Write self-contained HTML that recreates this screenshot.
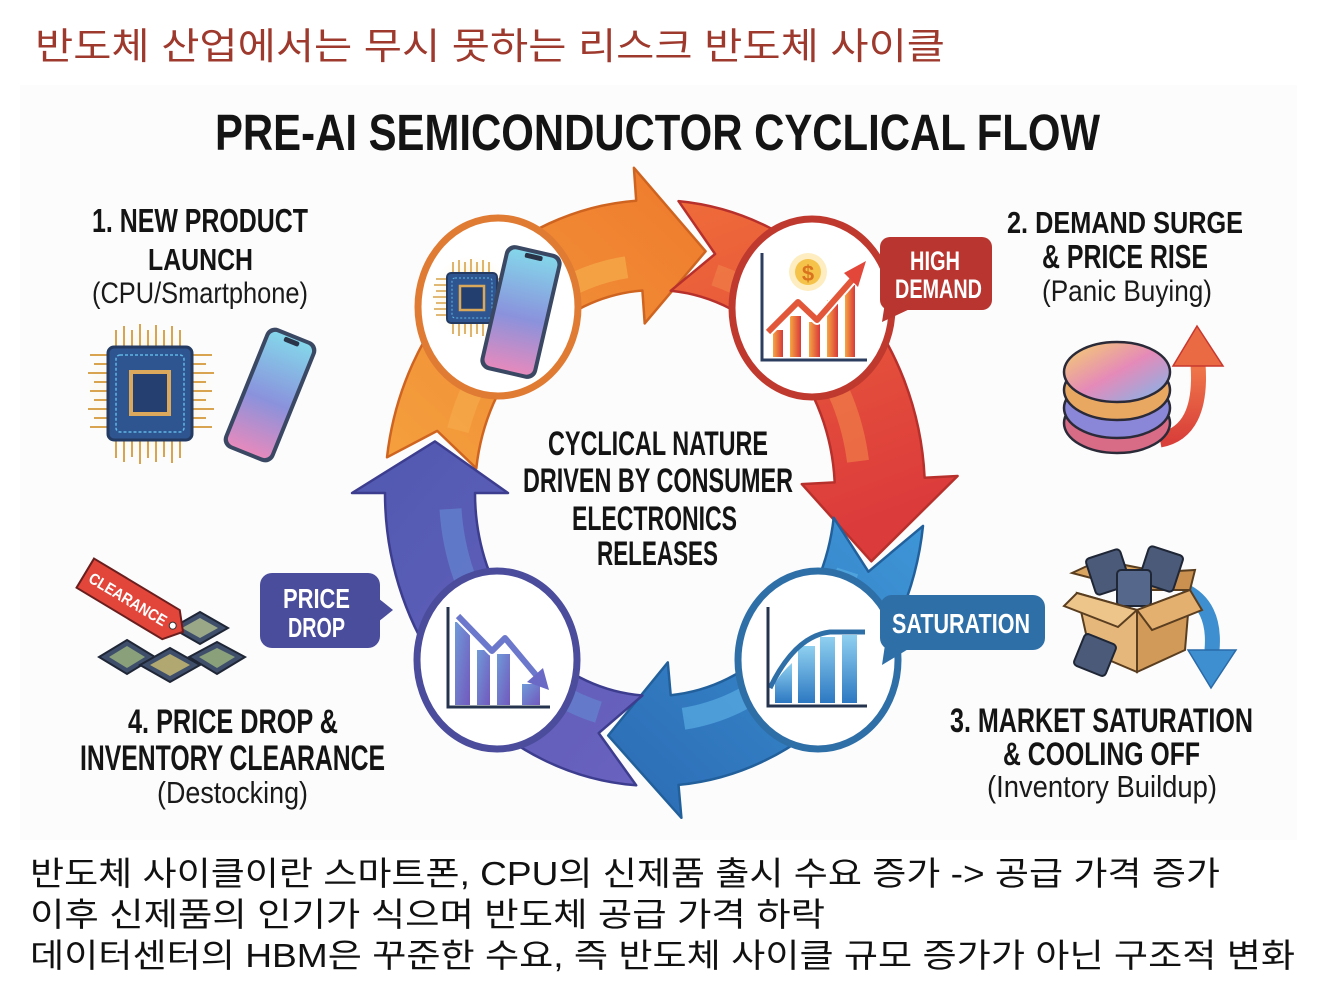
<!DOCTYPE html>
<html><head><meta charset="utf-8">
<style>
html,body{margin:0;padding:0;background:#fff;}
svg{display:block;}
text{font-family:"Liberation Sans","Noto Sans CJK KR",sans-serif;}
.kr{font-family:"Liberation Sans","Noto Sans CJK KR",sans-serif;}
.b{font-weight:bold;fill:#141414;}
.r{font-weight:normal;fill:#1a1a1a;}
.w{font-weight:bold;fill:#fff;}
</style></head>
<body>
<svg width="1327" height="981" viewBox="0 0 1327 981" xmlns="http://www.w3.org/2000/svg">
<defs>
<linearGradient id="gO" x1="0" y1="1" x2="1" y2="0"><stop offset="0" stop-color="#f4a03e"/><stop offset="1" stop-color="#ee7a2d"/></linearGradient>
<linearGradient id="gR" x1="0" y1="0" x2="0.3" y2="1"><stop offset="0" stop-color="#ef6c3a"/><stop offset="1" stop-color="#dc3b3b"/></linearGradient>
<linearGradient id="gB" x1="1" y1="0" x2="0" y2="1"><stop offset="0" stop-color="#3e96d7"/><stop offset="1" stop-color="#2b6bb4"/></linearGradient>
<linearGradient id="gP" x1="1" y1="1" x2="0" y2="0"><stop offset="0" stop-color="#6a62bf"/><stop offset="1" stop-color="#5059b0"/></linearGradient>
<linearGradient id="gPhone" x1="0" y1="0" x2="0" y2="1"><stop offset="0" stop-color="#84d6ea"/><stop offset="0.55" stop-color="#8a92dc"/><stop offset="1" stop-color="#e58abd"/></linearGradient>
<radialGradient id="glow"><stop offset="0" stop-color="#fde3a6" stop-opacity="1"/><stop offset="1" stop-color="#fff3d6" stop-opacity="0"/></radialGradient>
<linearGradient id="gBarR" x1="0" y1="0" x2="1" y2="0"><stop offset="0" stop-color="#f6a642"/><stop offset="1" stop-color="#d8393a"/></linearGradient>
<linearGradient id="gBarB" x1="0" y1="0" x2="0" y2="1"><stop offset="0" stop-color="#8fd0f0"/><stop offset="1" stop-color="#2c78c2"/></linearGradient>
<linearGradient id="gBarP" x1="0" y1="0" x2="1" y2="1"><stop offset="0" stop-color="#6f9ad8"/><stop offset="1" stop-color="#7258bd"/></linearGradient>
<linearGradient id="gWafer" x1="0" y1="0" x2="1" y2="1"><stop offset="0" stop-color="#f6d36a"/><stop offset="0.5" stop-color="#e58ab8"/><stop offset="1" stop-color="#7ab8ee"/></linearGradient>
<linearGradient id="gRedUp" x1="0" y1="1" x2="0" y2="0"><stop offset="0" stop-color="#d9403a"/><stop offset="1" stop-color="#f0784a"/></linearGradient>
</defs>

<rect x="20" y="85" width="1277" height="755" fill="#fcfcfc"/>

<text class="kr" x="35" y="59" font-size="37" fill="#9e392d" textLength="910" lengthAdjust="spacingAndGlyphs">반도체 산업에서는 무시 못하는 리스크 반도체 사이클</text>

<text class="b" x="215" y="150" font-size="51" textLength="885" lengthAdjust="spacingAndGlyphs">PRE-AI SEMICONDUCTOR CYCLICAL FLOW</text>

<!-- ARROWS -->
<path d="M387.0,457.3 A270,293 0 0 1 636.2,200.7 L633.9,167.8 L705.6,251.3 L644.7,323.4 L642.4,290.5 A180,203 0 0 0 476.3,468.3 L437.2,430.9 Z" fill="url(#gO)" stroke="#cf6420" stroke-width="2.5" stroke-linejoin="round"/>
<path d="M457.9,430.2 A205,228 0 0 1 626.5,267.2" fill="none" stroke="#f5a748" stroke-width="22" stroke-opacity="0.8"/>
<path d="M678.5,201.1 A270,293 0 0 1 924.6,477.7 L957.6,476.0 L871.3,561.3 L801.8,484.1 L834.7,482.4 A180,203 0 0 0 670.7,290.8 L715.1,254.0 Z" fill="url(#gR)" stroke="#b8302c" stroke-width="2.5" stroke-linejoin="round"/>
<path d="M714.9,275.0 A205,228 0 0 1 858.0,461.3" fill="none" stroke="#f07e48" stroke-width="22" stroke-opacity="0.7"/>
<path d="M923.0,525.9 A270,293 0 0 1 678.5,784.9 L681.4,817.8 L608.2,735.6 L667.8,662.4 L670.7,695.2 A180,203 0 0 0 833.7,517.7 L868.4,571.7 Z" fill="url(#gB)" stroke="#22609c" stroke-width="2.5" stroke-linejoin="round"/>
<path d="M847.6,571.0 A205,228 0 0 1 683.5,718.8" fill="none" stroke="#58ade2" stroke-width="22" stroke-opacity="0.7"/>
<path d="M636.2,785.3 A270,293 0 0 1 385,493 L352,493 L434.9,441.4 L508,493 L475,493 A180,203 0 0 0 642.4,695.5 L598.7,733.1 Z" fill="url(#gP)" stroke="#3d3d8f" stroke-width="2.5" stroke-linejoin="round"/>
<path d="M598.5,712.2 A205,228 0 0 1 450.5,508.9" fill="none" stroke="#6484d0" stroke-width="22" stroke-opacity="0.7"/>

<!-- CIRCLES -->
<ellipse cx="498" cy="307" rx="80" ry="89" fill="#fff" stroke="#e07b33" stroke-width="7"/>
<ellipse cx="812" cy="308" rx="80" ry="89" fill="#fff" stroke="#c0392f" stroke-width="7"/>
<ellipse cx="818" cy="660" rx="80" ry="89" fill="#fff" stroke="#2f6fa7" stroke-width="7"/>
<ellipse cx="497" cy="660" rx="80" ry="89" fill="#fff" stroke="#4b4c9c" stroke-width="7"/>

<!-- TL icon -->
<circle cx="472" cy="298" r="42" fill="url(#glow)"/>
<path d="M453,273V262M459,273V260M465,273V262M471,273V259M477,273V262M483,273V260M489,273V262M453,323V334M459,323V336M465,323V334M471,323V337M477,323V334M483,323V336M489,323V334M447,279H436M447,285H434M447,291H436M447,297H433M447,303H436M447,309H434M447,315H436M497,279H506M497,291H506M497,303H506M497,315H506" stroke="#d7a24a" stroke-width="1.6"/>
<rect x="447" y="273" width="50" height="50" rx="4" fill="#2f5590" stroke="#243a60" stroke-width="2"/>
<rect x="452" y="278" width="40" height="40" rx="3" fill="none" stroke="#5fb6e6" stroke-width="1" stroke-dasharray="2 2"/>
<rect x="460" y="286" width="24" height="24" fill="#233f70" stroke="#d9a85a" stroke-width="2.5"/>
<g transform="rotate(13 521 312)">
<rect x="492" y="248" width="58" height="128" rx="10" fill="#3a4864"/>
<rect x="496" y="252" width="50" height="120" rx="7" fill="url(#gPhone)"/>
<rect x="512" y="253" width="18" height="5" rx="2" fill="#2a3448"/>
</g>

<!-- TR icon -->
<rect x="773" y="330" width="10" height="27" fill="url(#gBarR)"/>
<rect x="790" y="316" width="11" height="41" fill="url(#gBarR)"/>
<rect x="809" y="322" width="11" height="35" fill="url(#gBarR)"/>
<rect x="827" y="300" width="11" height="57" fill="url(#gBarR)"/>
<rect x="845" y="285" width="10" height="72" fill="url(#gBarR)"/>
<path d="M762,253V360H867" fill="none" stroke="#2c3e60" stroke-width="3"/>
<polyline points="768,332 798,302 817,320 853,279" fill="none" stroke="#fff" stroke-width="10" stroke-linejoin="round"/>
<polyline points="768,332 798,302 817,320 853,279" fill="none" stroke="#e2573a" stroke-width="6" stroke-linejoin="round"/>
<polygon points="866,261 844,273 858,287" fill="#e2473a"/>
<circle cx="808" cy="272" r="19" fill="#fde8b0" opacity="0.8"/>
<circle cx="808" cy="272" r="13" fill="#f6c34a"/>
<text x="808" y="281" font-size="22" font-weight="bold" fill="#d9731e" text-anchor="middle">$</text>

<!-- BR icon -->
<path d="M775,703V683Q782,672 792,663V703Z" fill="url(#gBarB)"/>
<rect x="798" y="646" width="17" height="57" fill="url(#gBarB)"/>
<rect x="820" y="637" width="15" height="66" fill="url(#gBarB)"/>
<rect x="842" y="635" width="15" height="68" fill="url(#gBarB)"/>
<path d="M770,688Q795,636 830,632H865" fill="none" stroke="#2f6fa7" stroke-width="5"/>
<path d="M768,607V706H867" fill="none" stroke="#25334f" stroke-width="3"/>

<!-- BL icon -->
<rect x="455" y="622" width="15" height="83" fill="url(#gBarP)"/>
<rect x="477" y="650" width="13" height="55" fill="url(#gBarP)"/>
<rect x="497" y="654" width="13" height="51" fill="url(#gBarP)"/>
<rect x="522" y="684" width="18" height="21" fill="url(#gBarP)"/>
<polyline points="458,616 492,651 505,638 536,675" fill="none" stroke="#fff" stroke-width="10" stroke-linejoin="round"/>
<polyline points="458,616 492,651 505,638 536,675" fill="none" stroke="#6b78cc" stroke-width="6" stroke-linejoin="round"/>
<polygon points="549,690 527,682 543,668" fill="#6a6ac6"/>
<path d="M448,607V707H550" fill="none" stroke="#25334f" stroke-width="3"/>

<!-- Bubbles -->
<rect x="880" y="237" width="112" height="73" rx="10" fill="#b83530"/>
<polygon points="886,296 882,322 912,308" fill="#b83530"/>
<text class="w" x="910" y="270" font-size="27" textLength="50" lengthAdjust="spacingAndGlyphs">HIGH</text>
<text class="w" x="895" y="298" font-size="27" textLength="87" lengthAdjust="spacingAndGlyphs">DEMAND</text>

<rect x="880" y="595" width="165" height="55" rx="12" fill="#2f6fa7"/>
<polygon points="886,638 882,665 910,648" fill="#2f6fa7"/>
<text class="w" x="892" y="633" font-size="28" textLength="138" lengthAdjust="spacingAndGlyphs">SATURATION</text>

<rect x="260" y="573" width="120" height="75" rx="12" fill="#4a4c9c"/>
<polygon points="378,598 393,610 378,622" fill="#4a4c9c"/>
<text class="w" x="283" y="608" font-size="28" textLength="67" lengthAdjust="spacingAndGlyphs">PRICE</text>
<text class="w" x="288" y="637" font-size="28" textLength="57" lengthAdjust="spacingAndGlyphs">DROP</text>

<!-- center text -->
<text class="b" x="548" y="455" font-size="34" textLength="220" lengthAdjust="spacingAndGlyphs">CYCLICAL NATURE</text>
<text class="b" x="523" y="492" font-size="34" textLength="270" lengthAdjust="spacingAndGlyphs">DRIVEN BY CONSUMER</text>
<text class="b" x="572" y="530" font-size="34" textLength="165" lengthAdjust="spacingAndGlyphs">ELECTRONICS</text>
<text class="b" x="597" y="565" font-size="34" textLength="121" lengthAdjust="spacingAndGlyphs">RELEASES</text>

<!-- Label 1 -->
<text class="b" x="92" y="232" font-size="33" textLength="216" lengthAdjust="spacingAndGlyphs">1. NEW PRODUCT</text>
<text class="b" x="148" y="270" font-size="31" textLength="105" lengthAdjust="spacingAndGlyphs">LAUNCH</text>
<text class="r" x="92" y="303" font-size="30" textLength="216" lengthAdjust="spacingAndGlyphs">(CPU/Smartphone)</text>

<circle cx="150" cy="393" r="65" fill="url(#glow)"/>
<path d="M116,347V330M124,347V326M132,347V330M140,347V324M148,347V330M156,347V325M164,347V330M172,347V326M180,347V330M116,440V458M124,440V462M132,440V457M140,440V464M148,440V458M156,440V462M164,440V457M172,440V463M180,440V458M108,355H90M108,364H94M108,373H88M108,382H94M108,391H90M108,400H94M108,409H88M108,418H94M108,427H90M192,355H212M192,364H206M192,373H214M192,382H206M192,391H212M192,400H206M192,409H214M192,418H206M192,427H212" stroke="#d9a450" stroke-width="2"/>
<rect x="108" y="347" width="84" height="93" rx="6" fill="#2f5590" stroke="#233a62" stroke-width="3"/>
<rect x="116" y="355" width="68" height="77" rx="4" fill="none" stroke="#5fb6e6" stroke-width="1.5" stroke-dasharray="3 2"/>
<rect x="131" y="372" width="38" height="42" fill="#243f70" stroke="#dba85c" stroke-width="4"/>
<g transform="rotate(22 270 395)">
<rect x="243" y="330" width="54" height="130" rx="10" fill="#3a4864"/>
<rect x="247" y="334" width="46" height="122" rx="7" fill="url(#gPhone)"/>
<rect x="262" y="335" width="16" height="5" rx="2" fill="#2a3448"/>
</g>

<!-- Label 2 -->
<text class="b" x="1007" y="233" font-size="31" textLength="236" lengthAdjust="spacingAndGlyphs">2. DEMAND SURGE</text>
<text class="b" x="1042" y="268" font-size="33" textLength="166" lengthAdjust="spacingAndGlyphs">&amp; PRICE RISE</text>
<text class="r" x="1042" y="301" font-size="30" textLength="170" lengthAdjust="spacingAndGlyphs">(Panic Buying)</text>

<path d="M1160,440 Q1203,432 1198,364" fill="none" stroke="url(#gRedUp)" stroke-width="15"/>
<polygon points="1173,366 1223,366 1197,326" fill="#ea6a44" stroke="#c8382e" stroke-width="1.5"/>
<ellipse cx="1117" cy="423" rx="53" ry="30" fill="#d86b86" stroke="#2a2a38" stroke-width="2.5"/>
<ellipse cx="1117" cy="408" rx="53" ry="30" fill="#8a86d8" stroke="#2a2a38" stroke-width="2.5"/>
<ellipse cx="1117" cy="390" rx="53" ry="30" fill="#e9a862" stroke="#2a2a38" stroke-width="2.5"/>
<ellipse cx="1117" cy="372" rx="53" ry="30" fill="url(#gWafer)" stroke="#2a2a38" stroke-width="2.5"/>

<!-- Label 3 -->
<text class="b" x="950" y="732" font-size="34" textLength="303" lengthAdjust="spacingAndGlyphs">3. MARKET SATURATION</text>
<text class="b" x="1003" y="765" font-size="32" textLength="197" lengthAdjust="spacingAndGlyphs">&amp; COOLING OFF</text>
<text class="r" x="987" y="797" font-size="31" textLength="230" lengthAdjust="spacingAndGlyphs">(Inventory Buildup)</text>

<path d="M1183,590 Q1216,605 1212,650" fill="none" stroke="#3d8fd0" stroke-width="15"/>
<polygon points="1188,650 1236,650 1211,688" fill="#3d8fd0" stroke="#2a6aa8" stroke-width="1.5"/>
<polygon points="1072,573 1100,560 1160,572 1137,590" fill="#d9a460" stroke="#5a3e20" stroke-width="2"/>
<polygon points="1160,572 1195,570 1190,590 1137,590" fill="#c99050" stroke="#5a3e20" stroke-width="2"/>
<rect x="1090" y="553" width="36" height="38" rx="4" fill="#4a5a78" stroke="#1f2636" stroke-width="2" transform="rotate(-18 1108 572)"/>
<rect x="1143" y="550" width="36" height="38" rx="4" fill="#4a5a78" stroke="#1f2636" stroke-width="2" transform="rotate(18 1161 569)"/>
<rect x="1117" y="570" width="34" height="36" rx="4" fill="#55678a" stroke="#1f2636" stroke-width="2"/>
<polygon points="1077,593 1137,610 1137,672 1090,652" fill="#e6b77a" stroke="#5a3e20" stroke-width="2"/>
<polygon points="1137,610 1190,590 1185,650 1137,672" fill="#d29a58" stroke="#5a3e20" stroke-width="2"/>
<polygon points="1077,593 1137,610 1118,627 1064,606" fill="#edc48a" stroke="#5a3e20" stroke-width="2"/>
<polygon points="1137,610 1190,590 1202,610 1152,630" fill="#e3b070" stroke="#5a3e20" stroke-width="2"/>
<rect x="1078" y="638" width="34" height="34" rx="4" fill="#4a5a78" stroke="#1f2636" stroke-width="2" transform="rotate(22 1095 655)"/>

<!-- Label 4 -->
<text class="b" x="128" y="733" font-size="34" textLength="210" lengthAdjust="spacingAndGlyphs">4. PRICE DROP &amp;</text>
<text class="b" x="80" y="770" font-size="35" textLength="305" lengthAdjust="spacingAndGlyphs">INVENTORY CLEARANCE</text>
<text class="r" x="157" y="803" font-size="31" textLength="151" lengthAdjust="spacingAndGlyphs">(Destocking)</text>

<polygon points="127,640 155,657 127,674 99,657" fill="#3f4f6b" stroke="#1f2636" stroke-width="2"/>
<polygon points="127,646 145,657 127,668 109,657" fill="#8aa07a"/>
<polygon points="200,612 228,628 200,644 172,628" fill="#3f4f6b" stroke="#1f2636" stroke-width="2"/>
<polygon points="200,618 218,628 200,638 182,628" fill="#9aa888"/>
<polygon points="217,642 245,657 217,674 189,657" fill="#3f4f6b" stroke="#1f2636" stroke-width="2"/>
<polygon points="217,648 235,657 217,668 199,657" fill="#8aa07a"/>
<polygon points="170,648 200,665 170,682 140,665" fill="#3f4f6b" stroke="#1f2636" stroke-width="2"/>
<polygon points="170,654 190,665 170,676 150,665" fill="#b0a870"/>
<g transform="translate(135,603) rotate(31)">
<polygon points="-58,-17 42,-17 56,0 42,17 -58,17" fill="#e2463a" stroke="#6a1e1e" stroke-width="2"/>
<circle cx="44" cy="0" r="3.5" fill="#fff" stroke="#333" stroke-width="1"/>
<text class="w" x="-52" y="6" font-size="16" textLength="88" lengthAdjust="spacingAndGlyphs">CLEARANCE</text>
</g>

<!-- bottom Korean text -->
<text class="kr" x="30" y="885" font-size="33" fill="#111" textLength="1190" lengthAdjust="spacingAndGlyphs">반도체 사이클이란 스마트폰, CPU의 신제품 출시 수요 증가 -&gt; 공급 가격 증가</text>
<text class="kr" x="30" y="926" font-size="33" fill="#111" textLength="795" lengthAdjust="spacingAndGlyphs">이후 신제품의 인기가 식으며 반도체 공급 가격 하락</text>
<text class="kr" x="30" y="967" font-size="33" fill="#111" textLength="1265" lengthAdjust="spacingAndGlyphs">데이터센터의 HBM은 꾸준한 수요, 즉 반도체 사이클 규모 증가가 아닌 구조적 변화</text>
</svg>
</body></html>
